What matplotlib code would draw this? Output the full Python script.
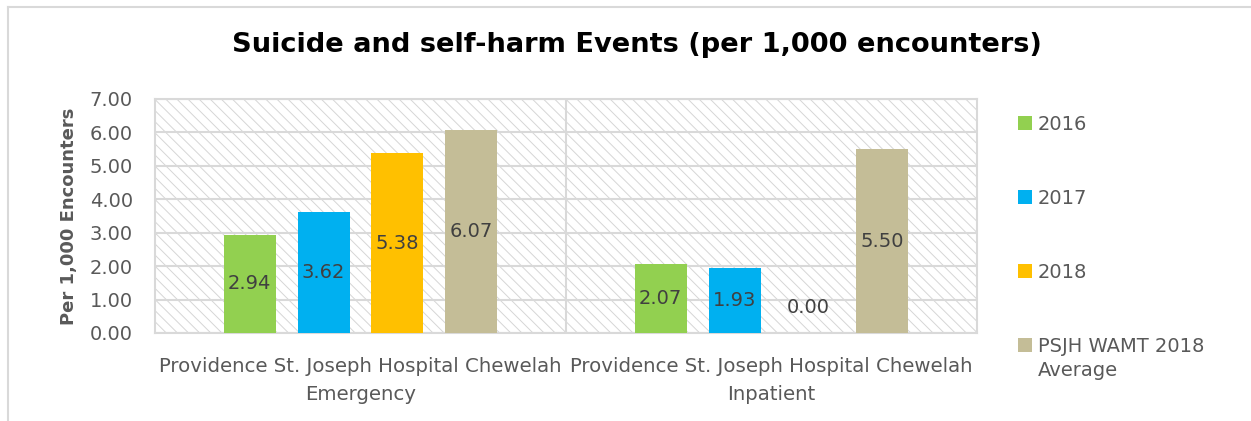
import matplotlib
matplotlib.use("Agg")
import matplotlib.pyplot as plt
from matplotlib.patches import Rectangle
from matplotlib.lines import Line2D
import numpy as np

# Data
categories = ["Providence St. Joseph Hospital Chewelah\nEmergency",
              "Providence St. Joseph Hospital Chewelah\nInpatient"]
series_names = ["2016", "2017", "2018", "PSJH WAMT 2018\nAverage"]
values_2016 = [2.94, 2.07]
values_2017 = [3.62, 1.93]
values_2018 = [5.38, 0.00]
values_avg = [6.07, 5.50]
colors = ["#92D050", "#00B0F0", "#FFC000", "#C4BD97"]

text_color = "#595959"
grid_color = "#D9D9D9"
W, H = 1251, 421

plt.rcParams['hatch.linewidth'] = 0.7

fig = plt.figure(figsize=(W / 100, H / 100), dpi=100)
ax = fig.add_axes([155 / W, 1 - 333 / H, 822 / W, 234 / H])

# hatched plot background
bg = Rectangle((0, 0), 1, 1, transform=ax.transAxes, facecolor="white",
               edgecolor="#D6D6D6", hatch="\\\\\\", linewidth=0, zorder=0)
ax.add_patch(bg)

x = np.arange(len(categories))
bar_w = 0.1265
step = 0.18
all_values = [values_2016, values_2017, values_2018, values_avg]
for i, (vals, col) in enumerate(zip(all_values, colors)):
    pos = x + (i - 1.5) * step
    ax.bar(pos, vals, width=bar_w, color=col, zorder=3)
    for p, v in zip(pos, vals):
        ypos = v / 2 if v > 0 else 0.75
        ax.text(p, ypos, f"{v:.2f}", ha="center", va="center",
                fontsize=14, color="#404040", zorder=4)

ax.set_xlim(-0.5, 1.5)
ax.set_ylim(0, 7)
ax.set_yticks(np.arange(0, 8, 1))
ax.set_yticklabels([f"{t:.2f}" for t in range(8)])
ax.set_xticks(x)
ax.set_xticklabels(categories)
ax.tick_params(axis="y", length=0, labelsize=14, colors=text_color, pad=16)
ax.tick_params(axis="x", length=0, labelsize=14.2, colors=text_color, pad=17)
for lbl in ax.get_xticklabels():
    lbl.set_linespacing(1.6)

ax.grid(axis="y", color=grid_color, linewidth=1.5, zorder=1)
ax.axvline(0.5, color=grid_color, linewidth=1.5, zorder=1)
for s in ax.spines.values():
    s.set_color(grid_color)
    s.set_linewidth(1.5)
ax.set_axisbelow(True)

ax.set_ylabel("Per 1,000 Encounters", fontsize=13, fontweight="bold",
              color=text_color)
ax.yaxis.set_label_coords((78 - 155) / 822, 0.5)

fig.text(0.509, 0.893, "Suicide and self-harm Events (per 1,000 encounters)",
         ha="center", va="center", fontsize=19.6, fontweight="bold", color="black")

# legend, drawn on the right
legend_rows = [123, 197, 271, 345]
for name, col, yc in zip(series_names, colors, legend_rows):
    fig.patches.append(Rectangle((1018 / W, 1 - (yc + 7) / H), 14 / W, 14 / H,
                                 transform=fig.transFigure, facecolor=col,
                                 edgecolor="none"))
    fig.text(1038 / W, 1 - (yc - 8) / H, name, ha="left", va="top",
             fontsize=14, color=text_color, linespacing=1.3)

# outer chart border (left and top edges only)
fig.add_artist(Line2D([8 / W, 8 / W], [-0.05, 1 - 7 / H],
                      transform=fig.transFigure, color=grid_color, linewidth=1.5))
fig.add_artist(Line2D([8 / W, 1.05], [1 - 7 / H, 1 - 7 / H],
                      transform=fig.transFigure, color=grid_color, linewidth=1.5))

plt.savefig("out.png", dpi=100)
